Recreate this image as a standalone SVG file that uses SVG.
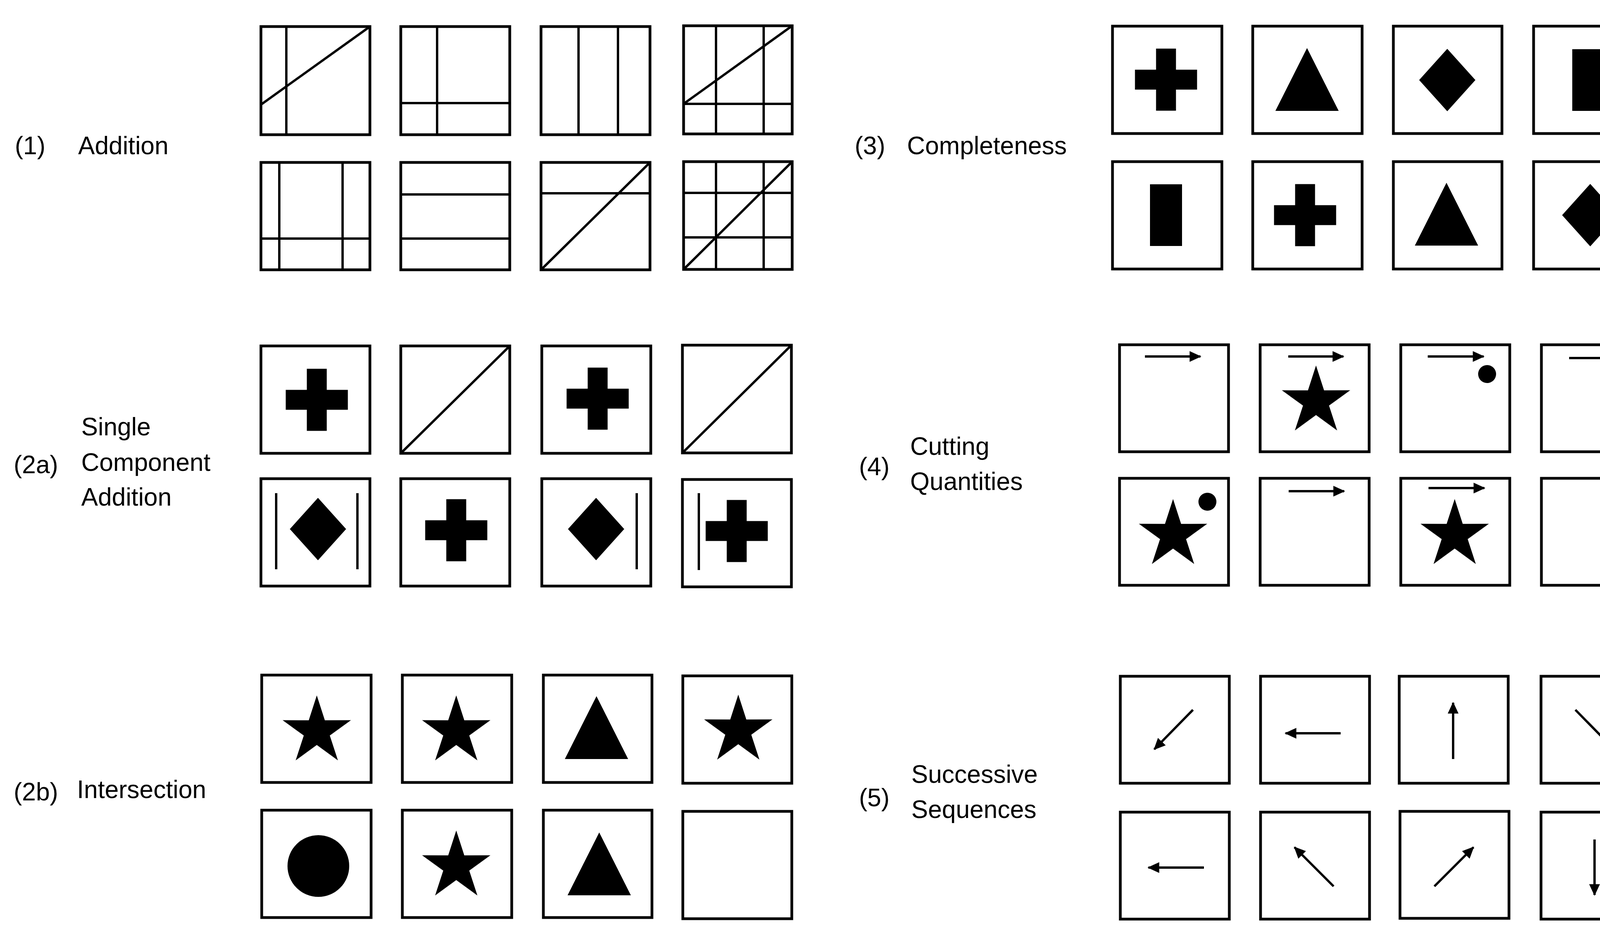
<svg xmlns="http://www.w3.org/2000/svg" xmlns:xlink="http://www.w3.org/1999/xlink" width="4272" height="2387" viewBox="0 0 4272 2387">
<style>
.box{fill:#fff;stroke:#000;stroke-width:7}
.ln{stroke:#000;stroke-width:6;fill:none}
.ar{stroke:#000;stroke-width:6;fill:none;marker-end:url(#ah)}
.sh{fill:#000}
text{font-family:"Liberation Sans",Arial,sans-serif;font-size:64px;fill:#000}
</style>
<defs>
<marker id="ah" markerUnits="strokeWidth" markerWidth="5" markerHeight="4.6" refX="4.6" refY="2.3" orient="auto"><path d="M0,0 L5,2.3 L0,4.6 Z" fill="#000"/></marker>
<path id="cross" d="M-25.5,-79.5 h51 v54 h54 v51 h-54 v54 h-51 v-54 h-54 v-51 h54 z"/>
<path id="tri" d="M0,-81 L81,80 L-81,80 Z"/>
<path id="dia" d="M0,-80 L72,0 L0,80 L-72,0 Z"/>
<rect id="bar" x="-41" y="-79" width="82" height="158"/>
<path id="star" d="M0,-92 L20.6,-28.3 L87.5,-28.4 L33.3,10.8 L54.1,74.4 L0,35 L-54.1,74.4 L-33.3,10.8 L-87.5,-28.4 L-20.6,-28.3 Z"/>
</defs>
<rect width="4272" height="2387" fill="#fff"/>

<g id="labels">
<text x="38" y="395">(1)</text><text x="200" y="395">Addition</text>
<text x="35" y="1212">(2a)</text><text x="208" y="1115">Single</text><text x="208" y="1206">Component</text><text x="208" y="1295">Addition</text>
<text x="35" y="2050">(2b)</text><text x="197" y="2044">Intersection</text>
<text x="2188" y="395">(3)</text><text x="2322" y="395">Completeness</text>
<text x="2199" y="1217">(4)</text><text x="2330" y="1165">Cutting</text><text x="2330" y="1255">Quantities</text>
<text x="2199" y="2065">(5)</text><text x="2333" y="2005">Successive</text><text x="2333" y="2095">Sequences</text>
</g>

<g id="p1">
<rect class="box" x="668" y="68" width="279" height="277"/>
<line class="ln" x1="733" y1="68" x2="733" y2="345"/><line class="ln" x1="668" y1="268" x2="947" y2="68"/>
<rect class="box" x="1026" y="68" width="279" height="277"/>
<line class="ln" x1="1119" y1="68" x2="1119" y2="345"/><line class="ln" x1="1026" y1="264" x2="1305" y2="264"/>
<rect class="box" x="1385" y="68" width="279" height="277"/>
<line class="ln" x1="1481" y1="68" x2="1481" y2="345"/><line class="ln" x1="1582" y1="68" x2="1582" y2="345"/>
<rect class="box" x="1750" y="66" width="278" height="277"/>
<line class="ln" x1="1833" y1="66" x2="1833" y2="343"/><line class="ln" x1="1955" y1="66" x2="1955" y2="343"/><line class="ln" x1="1750" y1="266" x2="2028" y2="266"/><line class="ln" x1="1750" y1="266" x2="2028" y2="66"/>
<rect class="box" x="668" y="416" width="279" height="275"/>
<line class="ln" x1="715" y1="416" x2="715" y2="691"/><line class="ln" x1="877" y1="416" x2="877" y2="691"/><line class="ln" x1="668" y1="611" x2="947" y2="611"/>
<rect class="box" x="1026" y="416" width="279" height="275"/>
<line class="ln" x1="1026" y1="498" x2="1305" y2="498"/><line class="ln" x1="1026" y1="611" x2="1305" y2="611"/>
<rect class="box" x="1385" y="416" width="279" height="275"/>
<line class="ln" x1="1385" y1="495" x2="1664" y2="495"/><line class="ln" x1="1385" y1="691" x2="1664" y2="416"/>
<rect class="box" x="1750" y="414" width="278" height="276"/>
<line class="ln" x1="1833" y1="414" x2="1833" y2="690"/><line class="ln" x1="1955" y1="414" x2="1955" y2="690"/><line class="ln" x1="1750" y1="494" x2="2028" y2="494"/><line class="ln" x1="1750" y1="608" x2="2028" y2="608"/><line class="ln" x1="1750" y1="690" x2="2028" y2="414"/>
</g>

<g id="p2a">
<rect class="box" x="668" y="886" width="279" height="275"/><use href="#cross" x="811" y="1024"/>
<rect class="box" x="1026" y="886" width="279" height="275"/><line class="ln" x1="1026" y1="1161" x2="1305" y2="886"/>
<rect class="box" x="1387" y="886" width="279" height="275"/><use href="#cross" x="1530" y="1021"/>
<rect class="box" x="1747" y="884" width="279" height="276"/><line class="ln" x1="1747" y1="1160" x2="2026" y2="884"/>
<rect class="box" x="668" y="1226" width="279" height="275"/><use href="#dia" x="814" y="1355"/>
<line class="ln" x1="707" y1="1263" x2="707" y2="1458"/><line class="ln" x1="915" y1="1263" x2="915" y2="1458"/>
<rect class="box" x="1026" y="1226" width="279" height="275"/><use href="#cross" x="1168" y="1358"/>
<rect class="box" x="1387" y="1226" width="279" height="275"/><use href="#dia" x="1526" y="1355"/>
<line class="ln" x1="1630" y1="1263" x2="1630" y2="1458"/>
<rect class="box" x="1747" y="1228" width="279" height="275"/><use href="#cross" x="1886" y="1360"/>
<line class="ln" x1="1789" y1="1263" x2="1789" y2="1460"/>
</g>

<g id="p2b">
<rect class="box" x="670" y="1729" width="280" height="275"/><use href="#star" x="811" y="1873"/>
<rect class="box" x="1030" y="1729" width="280" height="275"/><use href="#star" x="1168" y="1873"/>
<rect class="box" x="1391" y="1729" width="278" height="275"/><use href="#tri" x="1527" y="1864"/>
<rect class="box" x="1748" y="1731" width="279" height="275"/><use href="#star" x="1890" y="1871"/>
<rect class="box" x="670" y="2075" width="280" height="275"/><circle class="sh" cx="815" cy="2218" r="79"/>
<rect class="box" x="1030" y="2075" width="280" height="275"/><use href="#star" x="1168" y="2219"/>
<rect class="box" x="1391" y="2075" width="278" height="275"/><use href="#tri" x="1534" y="2213"/>
<rect class="box" x="1748" y="2078" width="279" height="275"/>
</g>

<g id="p3">
<rect class="box" x="2848" y="67" width="280" height="275"/><use href="#cross" x="2985" y="204"/>
<rect class="box" x="3207" y="67" width="280" height="275"/><use href="#tri" x="3346" y="204"/>
<rect class="box" x="3567" y="67" width="278" height="275"/><use href="#dia" x="3705" y="205"/>
<rect class="box" x="3926" y="67" width="278" height="275"/><use href="#bar" x="4066" y="205"/>
<rect class="box" x="2848" y="414" width="280" height="275"/><use href="#bar" x="2985" y="551"/>
<rect class="box" x="3207" y="414" width="280" height="275"/><use href="#cross" x="3341" y="551"/>
<rect class="box" x="3567" y="414" width="278" height="275"/><use href="#tri" x="3703" y="549"/>
<rect class="box" x="3926" y="414" width="278" height="275"/><use href="#dia" x="4071" y="551"/>
</g>

<g id="p4">
<rect class="box" x="2866" y="883" width="279" height="274"/>
<rect class="box" x="3226" y="883" width="279" height="274"/><use href="#star" x="3369" y="1028"/>
<rect class="box" x="3586" y="883" width="279" height="274"/><circle class="sh" cx="3807" cy="958" r="23"/>
<rect class="box" x="3946" y="883" width="279" height="274"/>
<rect class="box" x="2866" y="1225" width="279" height="274"/><use href="#star" x="3003" y="1370"/><circle class="sh" cx="3091" cy="1285" r="23"/>
<rect class="box" x="3226" y="1225" width="279" height="274"/>
<rect class="box" x="3586" y="1225" width="279" height="274"/><use href="#star" x="3724" y="1370"/>
<rect class="box" x="3946" y="1225" width="279" height="274"/>
</g>

<g id="p5">
<rect class="box" x="2868" y="1732" width="279" height="274"/>
<rect class="box" x="3227" y="1732" width="279" height="274"/>
<rect class="box" x="3582" y="1732" width="279" height="274"/>
<rect class="box" x="3945" y="1732" width="279" height="274"/>
<rect class="box" x="2868" y="2080" width="279" height="274"/>
<rect class="box" x="3227" y="2080" width="279" height="274"/>
<rect class="box" x="3584" y="2078" width="279" height="274"/>
<rect class="box" x="3945" y="2080" width="279" height="274"/>
</g>

<g id="connectors">
<line class="ar" x1="2931" y1="913" x2="3073" y2="913"/>
<line class="ar" x1="3298" y1="913" x2="3439" y2="913"/>
<line class="ar" x1="3655" y1="913" x2="3798" y2="913"/>
<line class="ar" x1="4017" y1="917" x2="4158" y2="917"/>
<line class="ar" x1="3299" y1="1258" x2="3441" y2="1258"/>
<line class="ar" x1="3657" y1="1250" x2="3800" y2="1250"/>
<line class="ar" x1="3054" y1="1818" x2="2955" y2="1919"/>
<line class="ar" x1="3432" y1="1878" x2="3291" y2="1878"/>
<line class="ar" x1="3720" y1="1944" x2="3720" y2="1800"/>
<line class="ar" x1="4033" y1="1818" x2="4132" y2="1919"/>
<line class="ar" x1="3082" y1="2222" x2="2940" y2="2222"/>
<line class="ar" x1="3414" y1="2270" x2="3314" y2="2170"/>
<line class="ar" x1="3672" y1="2270" x2="3772" y2="2170"/>
<line class="ar" x1="4082" y1="2150" x2="4082" y2="2292"/>
</g>
</svg>
